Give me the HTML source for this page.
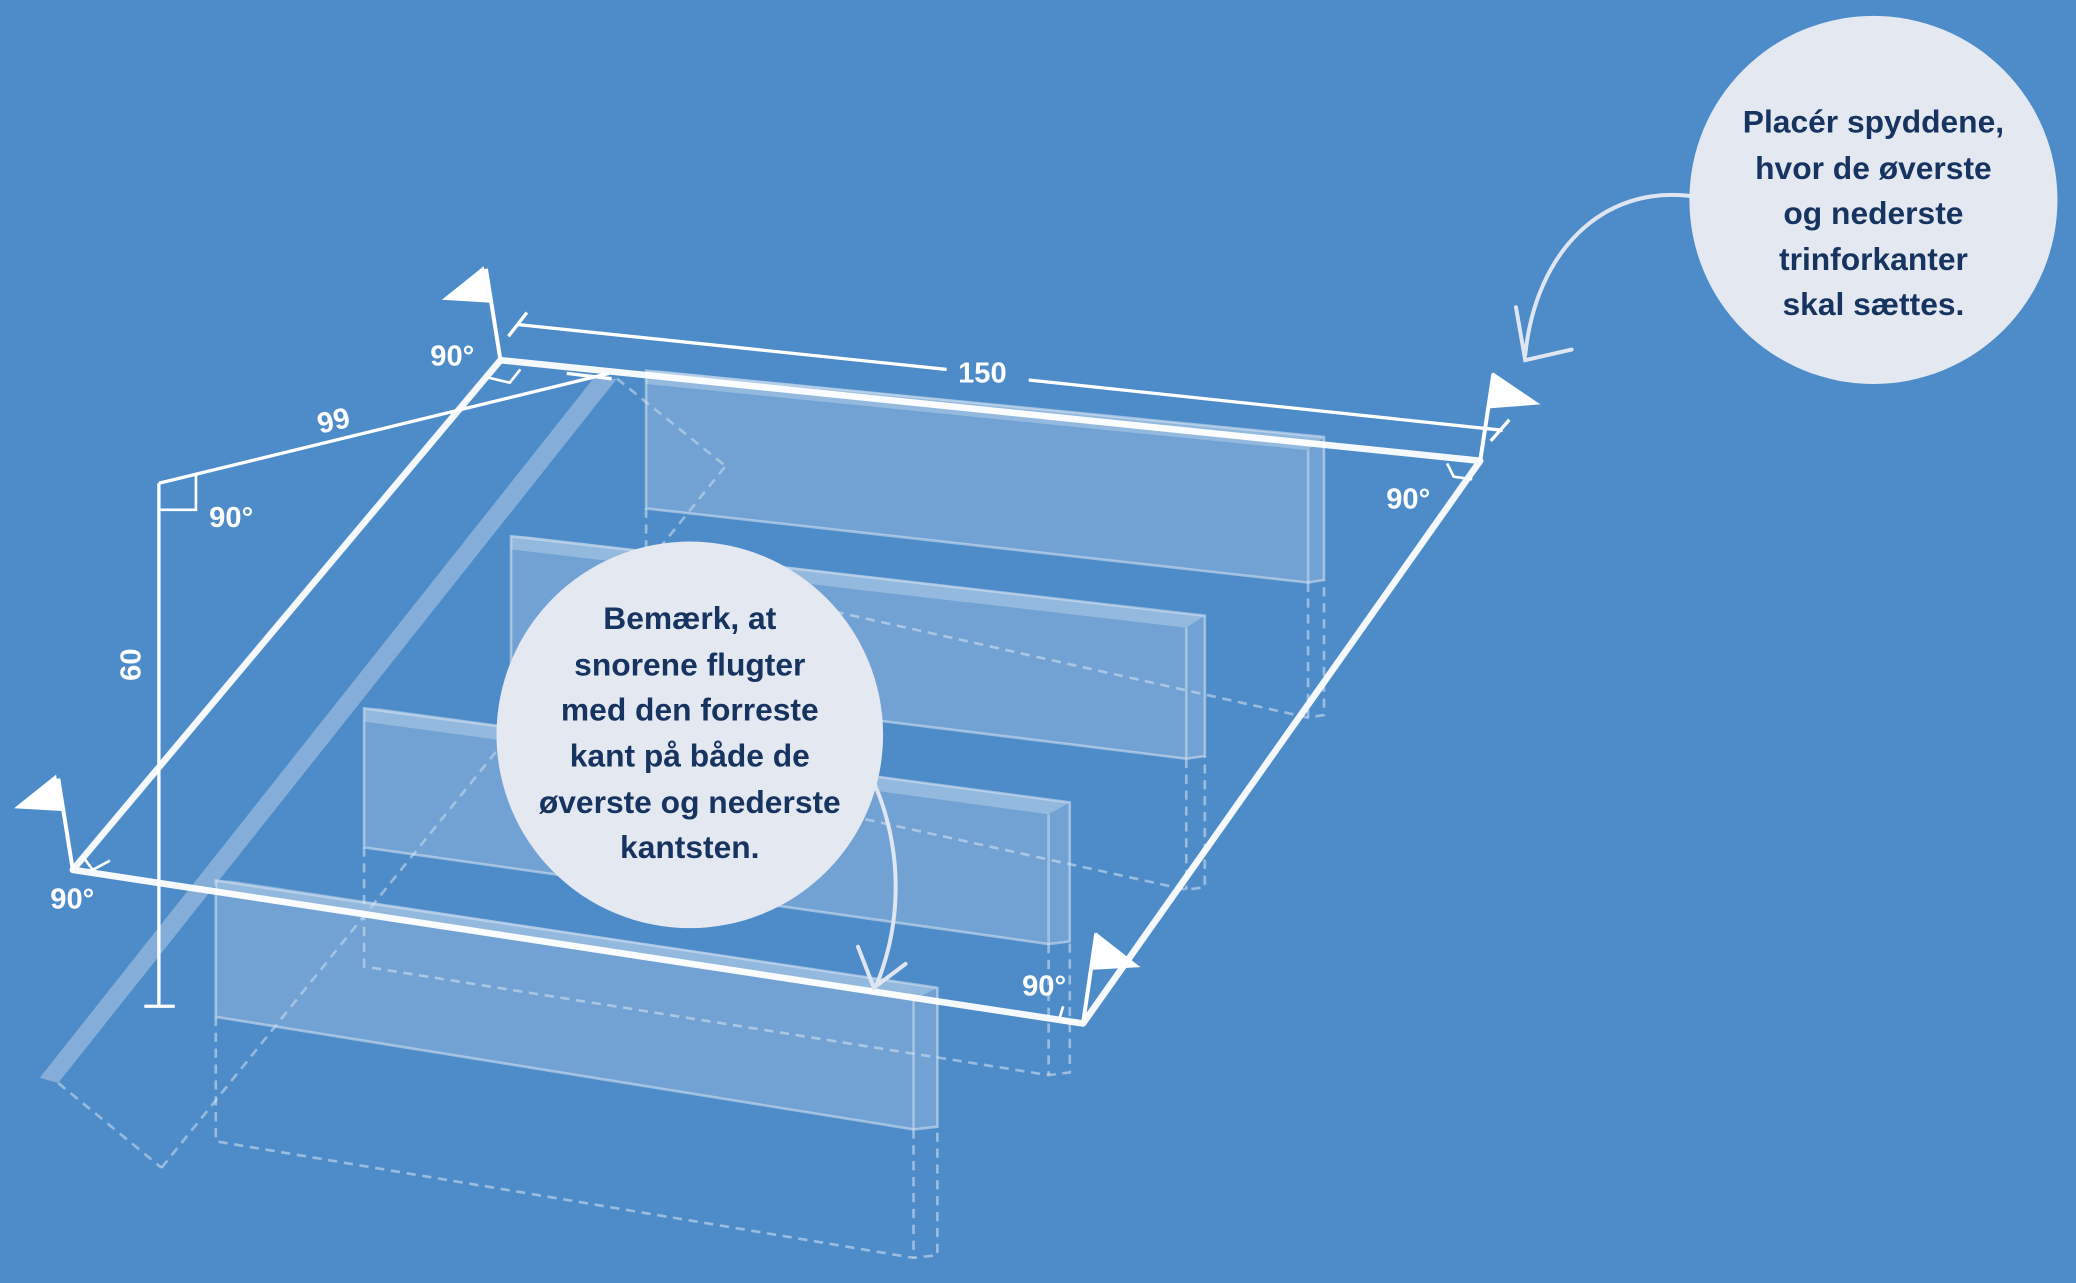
<!DOCTYPE html>
<html><head><meta charset="utf-8"><style>
html,body{margin:0;padding:0;background:#4d8cc8;}
svg{display:block}
text{font-family:"Liberation Sans",sans-serif;font-weight:bold;}
</style></head><body>
<svg width="2076" height="1283" viewBox="0 0 1568 969" xmlns="http://www.w3.org/2000/svg">
<rect width="1568" height="969" fill="#4d8cc8"/>
<!-- diagonal slab -->
<polygon points="448,286 466,286 44,818 30,814" fill="#c8d8ee" fill-opacity="0.45"/>
<g stroke="#c8d8ee" stroke-opacity="0.6" stroke-width="2" stroke-dasharray="7,5" fill="none">
<line x1="466" y1="286" x2="548" y2="352"/>
<line x1="44" y1="818" x2="122" y2="882"/>
<line x1="122" y1="882" x2="548" y2="352"/>
</g>
<!-- blocks -->
<g fill="#c8d8ee" fill-opacity="0.3" stroke="#d8e4f4" stroke-opacity="0.55" stroke-width="2">
<polygon points="488,280 1000,330 1000,438 988,440 488,384"/>
<polygon points="386,405 910,465 910,571 896,573 386,510"/>
<polygon points="275,535 808,606 808,711 792,713 275,640"/>
<polygon points="163,665 708,746 708,851 690,853 163,768"/>
</g>
<g fill="#d8e4f4" fill-opacity="0.35">
<polygon points="488,280 500,280 1000,330 988,340 488,290"/>
<polygon points="386,405 398,405 910,465 896,474 386,415"/>
<polygon points="275,535 287,535 808,606 792,615 275,545"/>
<polygon points="163,665 175,665 708,746 690,755 163,675"/>
</g>
<g stroke="#d8e4f4" stroke-opacity="0.5" stroke-width="2" fill="none">
<line x1="988" y1="340" x2="988" y2="440"/><line x1="896" y1="474" x2="896" y2="573"/>
<line x1="792" y1="615" x2="792" y2="713"/><line x1="690" y1="755" x2="690" y2="853"/>
</g>
<g stroke="#d8e4f4" stroke-opacity="0.55" stroke-width="2" stroke-dasharray="7,5" fill="none">
<polyline points="488,384 488,430 988,542 1000,540 1000,438"/><line x1="988" y1="440" x2="988" y2="542"/>
<polyline points="386,510 386,560 896,672 910,670 910,571"/><line x1="896" y1="573" x2="896" y2="672"/>
<polyline points="275,640 275,730 792,812 808,810 808,711"/><line x1="792" y1="713" x2="792" y2="812"/>
<polyline points="163,768 163,862 690,950 708,948 708,851"/><line x1="690" y1="853" x2="690" y2="950"/>
</g>
<!-- main frame -->
<polygon points="378,272 1118,348 818,773 55,657" fill="none" stroke="#ffffff" stroke-width="5" stroke-linejoin="round" stroke-opacity="0.95"/>
<!-- right angle marks -->
<g stroke="#fff" stroke-width="2" fill="none">
<polyline points="368,285 385,289 393,279"/>
<polyline points="1093,350 1098,360 1112,362"/>
<polyline points="803,760 800,770 814,772"/>
<polyline points="62,646 70,657 83,650"/>
<polyline points="120,385 148,385 148,358"/>
</g>
<!-- dimension lines -->
<g stroke="#fff" stroke-width="2.5" fill="none">
<line x1="390" y1="245" x2="715" y2="279"/><line x1="777" y1="287" x2="1135" y2="325"/>
<line x1="384" y1="254" x2="398" y2="236"/><line x1="1126" y1="333" x2="1140" y2="317"/>
<line x1="120" y1="365" x2="460" y2="282"/><line x1="428" y1="282" x2="462" y2="286"/>
<line x1="120" y1="365" x2="120" y2="760"/><line x1="109" y1="760" x2="132" y2="760"/>
</g>
<!-- flags -->
<g fill="#fff" stroke="#fff" stroke-width="3">
<line x1="378" y1="272" x2="367" y2="203"/><polygon points="335,226 365,202 369,228" stroke-width="1"/>
<line x1="1118" y1="348" x2="1128" y2="282"/><polygon points="1128,282 1162,305 1124,308" stroke-width="1"/>
<line x1="55" y1="657" x2="44" y2="588"/><polygon points="12,610 42,586 46,612" stroke-width="1"/>
<line x1="818" y1="773" x2="828" y2="705"/><polygon points="828,705 860,730 824,732" stroke-width="1"/>
</g>
<g fill="#fff" font-size="22">
<text x="325" y="276">90°</text>
<text x="1047" y="384">90°</text>
<text x="772" y="752">90°</text>
<text x="38" y="686">90°</text>
<text x="158" y="398">90°</text>
<text x="742" y="289" text-anchor="middle">150</text>
<text x="252" y="325" text-anchor="middle" transform="rotate(-13 252 318)">99</text>
<text x="98" y="510" text-anchor="middle" transform="rotate(-90 98 502)">60</text>
</g>
<!-- arrows -->
<g stroke="#dfe6f2" stroke-width="3" fill="none" stroke-linecap="round">
<path d="M1277,148 C1210,140 1160,190 1152,268"/>
<polyline points="1145,232 1152,272 1187,264"/>
<path d="M655,580 C685,640 680,700 662,744"/>
<polyline points="648,715 660,746 684,728"/>
</g>
<!-- circles -->
<circle cx="521" cy="555" r="146" fill="#e3e8f1"/>
<circle cx="1415" cy="151" r="139" fill="#e3e8f1"/>
<g fill="#17335f" font-size="24" text-anchor="middle">
<text x="521" y="475">Bemærk, at</text>
<text x="521" y="510">snorene flugter</text>
<text x="521" y="544">med den forreste</text>
<text x="521" y="579">kant på både de</text>
<text x="521" y="614">øverste og nederste</text>
<text x="521" y="648">kantsten.</text>
<text x="1415" y="100">Placér spyddene,</text>
<text x="1415" y="135">hvor de øverste</text>
<text x="1415" y="169">og nederste</text>
<text x="1415" y="204">trinforkanter</text>
<text x="1415" y="238">skal sættes.</text>
</g>
</svg>
</body></html>
